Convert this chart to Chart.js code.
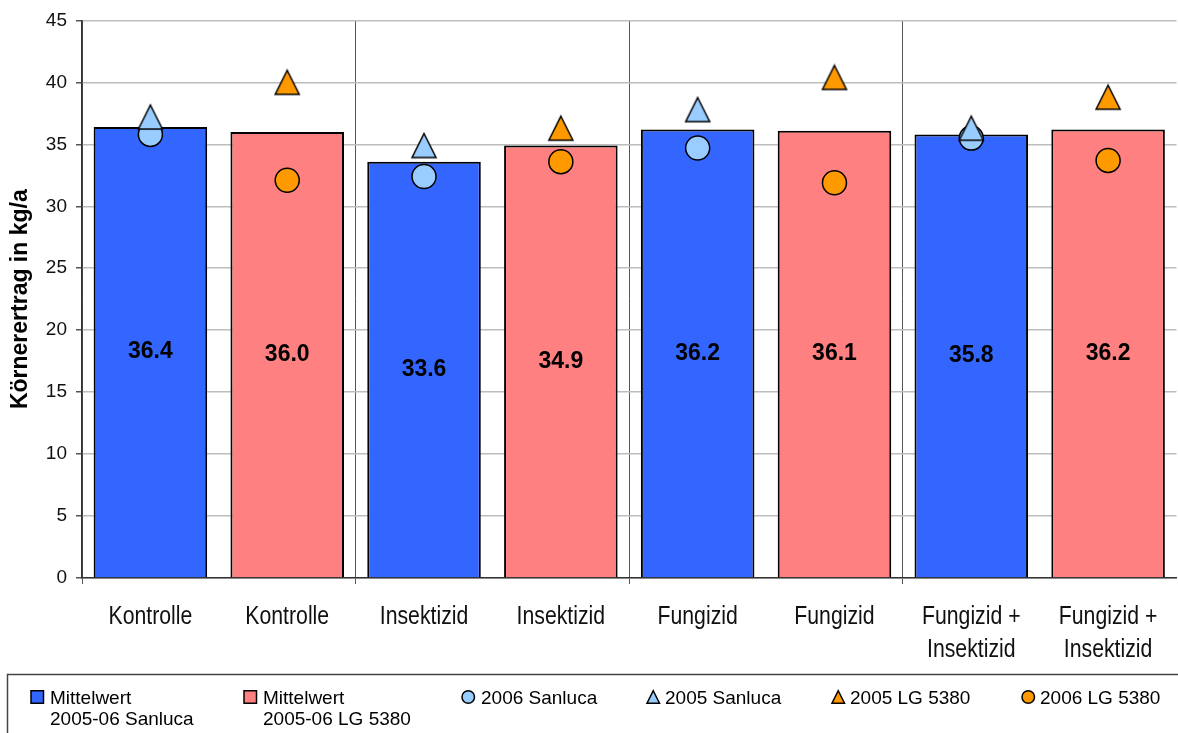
<!DOCTYPE html>
<html>
<head>
<meta charset="utf-8">
<script src="https://cdn.jsdelivr.net/npm/chart.js@4.4.1/dist/chart.umd.min.js"></script>
<style>
  html, body { margin: 0; padding: 0; background: #fff; overflow: hidden; width: 1178px; height: 733px; }
  #wrap { position: absolute; left: 0; top: 0; width: 1190px; height: 733px; }
</style>
</head>
<body>
<div id="wrap"><canvas id="c" width="1190" height="733"></canvas></div>
<script>
// Treatments (each one shown for both varieties)
const categories = [
  ['Kontrolle'], ['Kontrolle'],
  ['Insektizid'], ['Insektizid'],
  ['Fungizid'], ['Fungizid'],
  ['Fungizid +', 'Insektizid'], ['Fungizid +', 'Insektizid']
];

// Mean yields 2005-06 (bars)
const meanSanluca = [36.4, null, 33.6, null, 36.2, null, 35.8, null];
const meanLG5380  = [null, 36.0, null, 34.9, null, 36.1, null, 36.2];

// Single-year yields (markers)
const sanluca2006 = [35.8, null, 32.4, null, 34.7, null, 35.5, null];
const sanluca2005 = [37.2, null, 34.9, null, 37.8, null, 36.3, null];
const lg2005      = [null, 40.0, null, 36.3, null, 40.4, null, 38.8];
const lg2006      = [null, 32.1, null, 33.6, null, 31.9, null, 33.7];

// Value axis
const yTicks = [0, 5, 10, 15, 20, 25, 30, 35, 40, 45];

const BLUE = '#3366ff', PINK = '#ff8080', LIGHTBLUE = '#99ccff', ORANGE = '#ff9900';
const SANS = '"Liberation Sans", Arial, sans-serif';

// Upright triangle marker in a square box, centred on the data point
function triangleMarker(fill) {
  const size = 24, pad = 2;
  const c = document.createElement('canvas');
  c.width = size + pad * 2; c.height = size + pad * 2;
  const g = c.getContext('2d');
  g.beginPath();
  g.moveTo(c.width / 2, pad);
  g.lineTo(pad + size, pad + size);
  g.lineTo(pad, pad + size);
  g.closePath();
  g.fillStyle = fill; g.fill();
  g.lineWidth = 1.5; g.strokeStyle = '#000'; g.lineJoin = 'miter'; g.stroke();
  return c;
}

// Bar values written in the middle of each bar
const barValueLabels = {
  id: 'barValueLabels',
  afterDatasetsDraw(chart) {
    const ctx = chart.ctx;
    ctx.save();
    ctx.font = 'bold 23px ' + SANS;
    ctx.fillStyle = '#000';
    ctx.textAlign = 'center';
    ctx.textBaseline = 'middle';
    chart.data.datasets.forEach((ds, di) => {
      if (ds.type !== 'bar') return;
      chart.getDatasetMeta(di).data.forEach((el, i) => {
        const v = ds.data[i];
        if (v == null) return;
        const { x, y, base } = el.getProps(['x', 'y', 'base'], true);
        ctx.fillText(v.toFixed(1), x, (y + base) / 2);
      });
    });
    ctx.restore();
  }
};

// Condensed category labels under the x axis
const condensedCategoryLabels = {
  id: 'condensedCategoryLabels',
  afterDraw(chart) {
    const ctx = chart.ctx, sc = chart.scales.x;
    ctx.save();
    ctx.font = '25px ' + SANS;
    ctx.fillStyle = '#111';
    ctx.textAlign = 'center';
    ctx.textBaseline = 'middle';
    chart.data.labels.forEach((lines, i) => {
      const x = sc.getPixelForTick(i);
      [].concat(lines).forEach((t, k) => {
        ctx.save();
        ctx.translate(x, sc.top + 39 + k * 33);
        ctx.scale(0.85, 1);
        ctx.fillText(t, 0, 0);
        ctx.restore();
      });
    });
    ctx.restore();
  }
};

// Boxed legend below the axis
const legendItems = [
  { ds: 0, mark: 'square',   mx: 31,  tx: 50 },
  { ds: 1, mark: 'square',   mx: 244, tx: 263 },
  { ds: 2, mark: 'circle',   mx: 462, tx: 481 },
  { ds: 3, mark: 'triangle', mx: 647, tx: 665 },
  { ds: 4, mark: 'triangle', mx: 832, tx: 850 },
  { ds: 5, mark: 'circle',   mx: 1022, tx: 1040 }
];
const boxedLegend = {
  id: 'boxedLegend',
  afterDraw(chart) {
    const ctx = chart.ctx;
    ctx.save();
    ctx.strokeStyle = '#444';
    ctx.lineWidth = 1.5;
    ctx.strokeRect(7.5, 674.5, 1400, 200);

    const cy = 697, s = 12.5;
    ctx.font = '19px ' + SANS;
    ctx.textAlign = 'left';
    ctx.textBaseline = 'alphabetic';
    legendItems.forEach(item => {
      const ds = chart.data.datasets[item.ds];
      ctx.fillStyle = ds.legendColor;
      ctx.strokeStyle = '#000';
      ctx.lineWidth = 1.5;
      ctx.beginPath();
      if (item.mark === 'square') {
        ctx.rect(item.mx, cy - s / 2, s, s);
      } else if (item.mark === 'circle') {
        ctx.arc(item.mx + s / 2, cy, s / 2, 0, Math.PI * 2);
      } else {
        ctx.moveTo(item.mx + s / 2, cy - s / 2);
        ctx.lineTo(item.mx + s, cy + s / 2);
        ctx.lineTo(item.mx, cy + s / 2);
        ctx.closePath();
      }
      ctx.fill();
      ctx.stroke();
      ctx.fillStyle = '#000';
      const lines = [].concat(ds.legendText);
      lines.forEach((t, k) => ctx.fillText(t, item.tx, 703.5 + k * 21.5));
    });
    ctx.restore();
  }
};

const barBase = {
  type: 'bar',
  grouped: false,
  categoryPercentage: 1,
  barPercentage: 0.83,
  borderColor: '#000',
  borderWidth: 2,
  order: 10
};
const markerBase = {
  type: 'line',
  showLine: false,
  pointBorderColor: '#000',
  pointBorderWidth: 1.5,
  pointHoverRadius: 12
};

new Chart(document.getElementById('c'), {
  data: {
    labels: categories,
    datasets: [
      Object.assign({}, barBase, {
        label: 'Mittelwert 2005-06 Sanluca', legendText: ['Mittelwert', '2005-06 Sanluca'],
        data: meanSanluca, backgroundColor: BLUE, legendColor: BLUE
      }),
      Object.assign({}, barBase, {
        label: 'Mittelwert 2005-06 LG 5380', legendText: ['Mittelwert', '2005-06 LG 5380'],
        data: meanLG5380, backgroundColor: PINK, legendColor: PINK
      }),
      Object.assign({}, markerBase, {
        label: '2006 Sanluca', legendText: '2006 Sanluca', order: 4,
        data: sanluca2006, pointStyle: 'circle', pointRadius: 12,
        pointBackgroundColor: LIGHTBLUE, legendColor: LIGHTBLUE
      }),
      Object.assign({}, markerBase, {
        label: '2005 Sanluca', legendText: '2005 Sanluca', order: 3,
        data: sanluca2005, pointStyle: triangleMarker(LIGHTBLUE), pointRadius: 12,
        pointBackgroundColor: LIGHTBLUE, legendColor: LIGHTBLUE
      }),
      Object.assign({}, markerBase, {
        label: '2005 LG 5380', legendText: '2005 LG 5380', order: 2,
        data: lg2005, pointStyle: triangleMarker(ORANGE), pointRadius: 12,
        pointBackgroundColor: ORANGE, legendColor: ORANGE
      }),
      Object.assign({}, markerBase, {
        label: '2006 LG 5380', legendText: '2006 LG 5380', order: 1,
        data: lg2006, pointStyle: 'circle', pointRadius: 12,
        pointBackgroundColor: ORANGE, legendColor: ORANGE
      })
    ]
  },
  options: {
    responsive: false,
    animation: false,
    layout: { padding: { top: 17, right: 8, bottom: 0, left: 0 } },
    plugins: {
      legend: { display: false },
      tooltip: { enabled: false }
    },
    scales: {
      x: {
        type: 'category',
        offset: true,
        grid: {
          offset: true,
          drawOnChartArea: true,
          color: c => (c.index % 2 === 0 ? '#555' : 'rgba(0,0,0,0)'),
          tickColor: c => (c.index % 2 === 0 ? '#555' : 'rgba(0,0,0,0)'),
          lineWidth: 1,
          tickLength: 6
        },
        border: { display: true, color: '#333', width: 1.5 },
        ticks: { display: false, autoSkip: false },
        afterFit(scale) { scale.height = 155; }
      },
      y: {
        min: yTicks[0],
        max: yTicks[yTicks.length - 1],
        afterBuildTicks(scale) { scale.ticks = yTicks.map(v => ({ value: v })); },
        grid: {
          color: '#bdbdbd',
          lineWidth: 1.5,
          tickColor: '#555',
          tickLength: 6
        },
        border: { display: true, color: '#333', width: 1.5 },
        ticks: {
          color: '#111',
          font: { family: SANS, size: 19 },
          padding: 9
        },
        title: {
          display: true,
          text: 'Körnerertrag in kg/a',
          color: '#000',
          font: { family: SANS, size: 23, weight: 'bold' },
          padding: { top: 7, bottom: 0 }
        },
        afterFit(scale) { scale.width = 82; }
      }
    }
  },
  plugins: [barValueLabels, condensedCategoryLabels, boxedLegend]
});
</script>
</body>
</html>
